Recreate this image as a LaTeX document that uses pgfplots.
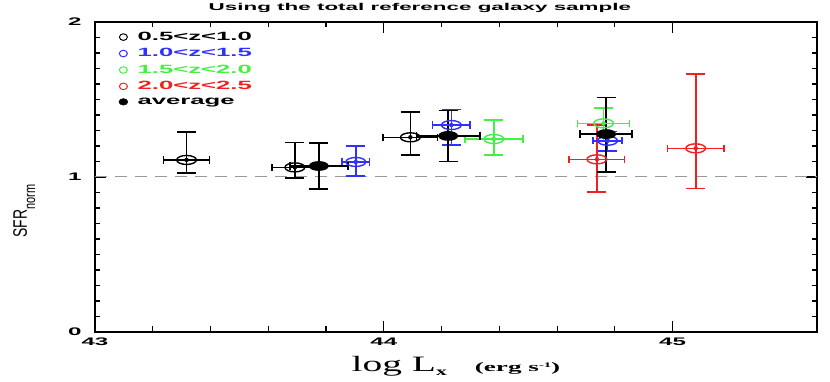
\documentclass[border=0pt]{standalone}
\usepackage{pgfplots}
\pgfplotsset{compat=1.18}
\usepackage{fontspec}
\newfontfamily\smfont{Liberation Sans}
\newfontfamily\serf{Liberation Serif}
\usetikzlibrary{calc}
\definecolor{zblue}{HTML}{3030FF}
\definecolor{zgreen}{HTML}{44F044}
\definecolor{zred}{HTML}{F02020}
% stretched bold sans used by the original plotting package
\newcommand{\sm}[3][2.2]{\scalebox{#1}[1]{\smfont\bfseries\fontsize{#2}{#2}\selectfont #3}}
\pgfkeys{/pgfplots/table/tab/.style={
  /pgfplots/table/x=x, /pgfplots/table/y=y,
  /pgfplots/table/x error plus=xp, /pgfplots/table/x error minus=xm,
  /pgfplots/table/y error plus=yp, /pgfplots/table/y error minus=ym}}
\pgfplotsset{
  erry/.style={only marks, forget plot, mark=none, color=#1,
    error bars/y dir=both, error bars/y explicit,
    error bars/error bar style={line width=1.6bp, #1, solid},
    error bars/error mark options={rotate=90, mark size=9.5bp, line width=1.6bp, #1, solid}},
  errx/.style={only marks, forget plot, color=#1, line width=1.4bp,
    error bars/x dir=both, error bars/x explicit,
    error bars/error bar style={line width=1.6bp, #1, solid},
    error bars/error mark options={rotate=90, mark size=3.6bp, line width=1.6bp, #1, solid}},
}
\pgfplotstableread{
x y xp xm yp ym
43.317 1.110 0.080 0.080 0.180 0.086
43.692 1.062 0.080 0.080 0.160 0.070
44.092 1.256 0.094 0.094 0.165 0.115
}\zone
\pgfplotstableread{
x y xp xm yp ym
43.903 1.097 0.048 0.048 0.103 0.090
44.234 1.335 0.065 0.065 0.100 0.130
44.775 1.234 0.050 0.050 0.060 0.065
}\ztwo
\pgfplotstableread{
x y xp xm yp ym
44.381 1.245 0.100 0.100 0.123 0.103
44.761 1.346 0.090 0.090 0.100 0.116
}\zthree
\pgfplotstableread{
x y xp xm yp ym
44.738 1.114 0.096 0.096 0.220 0.210
45.080 1.185 0.098 0.098 0.480 0.258
}\zfour
\pgfplotstableread{
x y xp xm yp ym
43.775 1.071 0.100 0.100 0.150 0.150
44.223 1.265 0.110 0.110 0.165 0.165
44.770 1.277 0.090 0.090 0.237 0.243
}\zavg

\begin{document}
\begin{tikzpicture}
\begin{axis}[
  scale only axis,
  width=722bp, height=310bp,
  xmin=43, xmax=45.5, ymin=0, ymax=2,
  xtick={43,44,45}, ytick={0,1,2},
  xticklabels={\sm{11}{43},\sm{11}{44},\sm{11}{45}},
  yticklabels={\sm{11}{0},\sm{11}{1},\sm{11}{2}},
  minor x tick num=4, minor y tick num=9,
  major tick length=11bp, minor tick length=5.5bp,
  axis line style={line width=1.4bp},
  every tick/.style={line width=1.1bp, black},
  xticklabel style={yshift=-2bp},
  yticklabel style={xshift=-10bp},
  title={\sm[2.25]{10}{Using the total reference galaxy sample}},
  title style={at={(0.45,1)}, anchor=south, yshift=0bp},
  xlabel={\scalebox{1.8}[1]{\serf\fontsize{22}{22}\selectfont log L}\scalebox{1.8}[1]{\raisebox{-4bp}{\serf\bfseries\fontsize{12}{12}\selectfont x}}\hspace{28bp}\scalebox{2.1}[1]{\serf\bfseries\fontsize{13}{13}\selectfont (erg s\raisebox{4bp}{\fontsize{7}{7}\selectfont -1})}},
  xlabel style={yshift=-4bp},
  ylabel={\scalebox{1}[1.4]{\smfont\fontsize{14}{14}\selectfont SFR\raisebox{-6bp}{\fontsize{11}{11}\selectfont norm}}},
  ylabel style={at={(axis description cs:-0.098,0.39)}, anchor=center},
  legend style={draw=none, fill=none, at={(0,1)}, anchor=north west,
    xshift=20bp, yshift=-6bp, row sep=2.6bp},
  legend cell align=left,
]
\addplot[gray!80, line width=1bp, dash pattern=on 12bp off 8bp, forget plot] coordinates {(43,1) (45.5,1)};

\addlegendimage{legend image code/.code={\draw[black, line width=1bp] (0bp,0bp) ellipse (4bp and 3.3bp); \path (-5bp,0bp) (12bp,0bp);}}
\addlegendentry{\sm[2.15]{12}{\textcolor{black}{0.5<z<1.0}}}
\addlegendimage{legend image code/.code={\draw[zblue, line width=1bp] (0bp,0bp) ellipse (4bp and 3.3bp); \path (-5bp,0bp) (12bp,0bp);}}
\addlegendentry{\sm[2.15]{12}{\textcolor{zblue}{1.0<z<1.5}}}
\addlegendimage{legend image code/.code={\draw[zgreen, line width=1bp] (0bp,0bp) ellipse (4bp and 3.3bp); \path (-5bp,0bp) (12bp,0bp);}}
\addlegendentry{\sm[2.15]{12}{\textcolor{zgreen}{1.5<z<2.0}}}
\addlegendimage{legend image code/.code={\draw[zred, line width=1bp] (0bp,0bp) ellipse (4bp and 3.3bp); \path (-5bp,0bp) (12bp,0bp);}}
\addlegendentry{\sm[2.15]{12}{\textcolor{zred}{2.0<z<2.5}}}
\addlegendimage{legend image code/.code={\fill[black] (0bp,0bp) ellipse (4.5bp and 3.3bp); \path (-5bp,0bp) (12bp,0bp);}}
\addlegendentry{\sm[2.15]{12}{\textcolor{black}{average}}}

% vertical error bars (wide caps)
\addplot[erry=black]  table[tab] {\zone};
\addplot[erry=zblue]  table[tab] {\ztwo};
\addplot[erry=zgreen] table[tab] {\zthree};
\addplot[erry=zred]   table[tab] {\zfour};
\addplot[erry=black]  table[tab] {\zavg};
% horizontal error bars and markers
\addplot[errx=black, mark=o, mark size=4.5bp, mark options={xscale=2.2, solid}] table[tab] {\zone};
\addplot[errx=zblue, mark=o, mark size=4.5bp, mark options={xscale=2.2, solid}] table[tab] {\ztwo};
\addplot[errx=zgreen, mark=o, mark size=4.5bp, mark options={xscale=2.2, solid}] table[tab] {\zthree};
\addplot[errx=zred, mark=o, mark size=4.5bp, mark options={xscale=2.2, solid}] table[tab] {\zfour};
\addplot[errx=black, mark=*, mark size=4.2bp, mark options={xscale=2.2, solid}] table[tab] {\zavg};
\end{axis}
\pgfresetboundingbox
\path ($(current axis.south west)+(-95bp,-50bp)$) rectangle ($(current axis.north east)+(13bp,22bp)$);
\end{tikzpicture}
\end{document}
